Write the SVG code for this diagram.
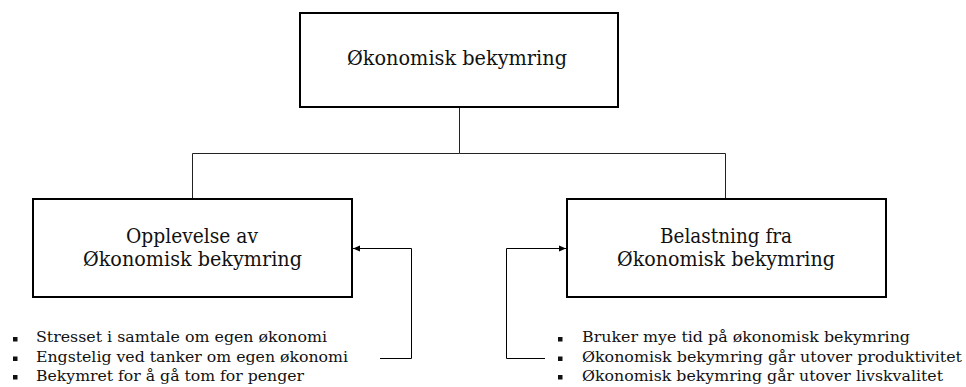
<svg xmlns="http://www.w3.org/2000/svg" width="966" height="387" viewBox="0 0 966 387">
<style>
.box{fill:#fff;stroke:#000;stroke-width:2}
.t{font-family:"DejaVu Serif","Liberation Serif",serif;font-size:20px;fill:#111;text-anchor:middle}
.b{font-family:"DejaVu Serif","Liberation Serif",serif;font-size:15.5px;fill:#111}
.c{fill:none;stroke:#222;stroke-width:1}
.a{fill:none;stroke:#000;stroke-width:1}
</style>
<defs>
<marker id="ah" markerWidth="8" markerHeight="8" refX="7" refY="4" orient="auto" markerUnits="userSpaceOnUse">
<path d="M0,1 L7,4 L0,7 Z" fill="#000"/>
</marker>
</defs>
<g id="connectors">
<path class="c" d="M459.5,107 V153.5 H192.5 V199 M459.5,153.5 H725.5 V199"/>
<path class="a" d="M380,358.5 H411.5 V248.5 H353" marker-end="url(#ah)"/>
<path class="a" d="M545,358.5 H506.5 V248.5 H566" marker-end="url(#ah)"/>
</g>
<g id="top">
<rect class="box" x="300" y="13" width="318" height="94"/>
<text class="t" x="457" y="65" textLength="220" lengthAdjust="spacingAndGlyphs">Økonomisk bekymring</text>
</g>
<g id="left">
<rect class="box" x="33" y="199" width="319" height="98"/>
<text class="t" x="192" y="243" textLength="132" lengthAdjust="spacingAndGlyphs">Opplevelse av</text>
<text class="t" x="192.5" y="266" textLength="219" lengthAdjust="spacingAndGlyphs">Økonomisk bekymring</text>
</g>
<g id="right">
<rect class="box" x="567" y="199" width="319" height="98"/>
<text class="t" x="726" y="243" textLength="132" lengthAdjust="spacingAndGlyphs">Belastning fra</text>
<text class="t" x="726" y="266" textLength="218" lengthAdjust="spacingAndGlyphs">Økonomisk bekymring</text>
</g>
<g id="left-list">
<rect x="13" y="337" width="4.5" height="4.5" fill="#111"/>
<rect x="13" y="356.5" width="4.5" height="4.5" fill="#111"/>
<rect x="13" y="375" width="4.5" height="4.5" fill="#111"/>
<text class="b" x="36" y="342" textLength="291" lengthAdjust="spacingAndGlyphs">Stresset i samtale om egen økonomi</text>
<text class="b" x="36" y="362" textLength="312" lengthAdjust="spacingAndGlyphs">Engstelig ved tanker om egen økonomi</text>
<text class="b" x="36" y="381" textLength="268" lengthAdjust="spacingAndGlyphs">Bekymret for å gå tom for penger</text>
</g>
<g id="right-list">
<rect x="558" y="337" width="4.5" height="4.5" fill="#111"/>
<rect x="558" y="356.5" width="4.5" height="4.5" fill="#111"/>
<rect x="558" y="375" width="4.5" height="4.5" fill="#111"/>
<text class="b" x="582" y="342" textLength="328" lengthAdjust="spacingAndGlyphs">Bruker mye tid på økonomisk bekymring</text>
<text class="b" x="582" y="362" textLength="380" lengthAdjust="spacingAndGlyphs">Økonomisk bekymring går utover produktivitet</text>
<text class="b" x="582" y="381" textLength="361" lengthAdjust="spacingAndGlyphs">Økonomisk bekymring går utover livskvalitet</text>
</g>
</svg>
